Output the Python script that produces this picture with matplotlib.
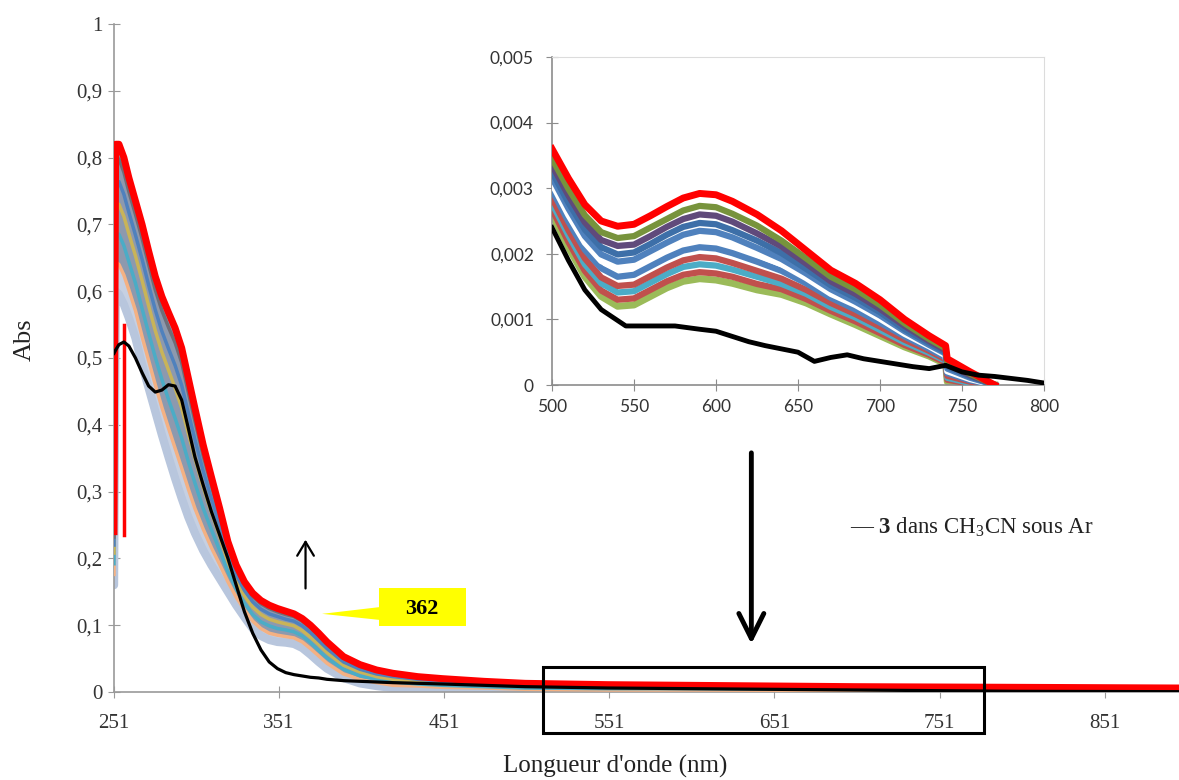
import numpy as np
import matplotlib
matplotlib.use("Agg")
import matplotlib.pyplot as plt
from matplotlib.patches import Rectangle, Polygon
from matplotlib.ticker import FuncFormatter

plt.rcParams['font.family'] = ['Liberation Serif', 'DejaVu Serif']
plt.rcParams['mathtext.fontset'] = 'custom'
plt.rcParams['mathtext.rm'] = 'Liberation Serif'
plt.rcParams['mathtext.bf'] = 'Liberation Serif:bold'
plt.rcParams['mathtext.default'] = 'regular'

# ---------------------------------------------------------------------
# main spectra (nm / Abs)
wl = [251, 252, 254, 257, 260, 264, 268, 272, 276, 280, 284, 288, 292, 296, 300,
      305, 310, 315, 320, 325, 330, 335, 340, 345, 350, 355, 360, 365, 370, 375,
      380, 390, 400, 410, 420, 435, 450, 475, 500, 550, 600, 700, 800, 896]

abs_first = [0.16, 0.60, 0.595, 0.58, 0.56, 0.53, 0.49, 0.455, 0.42, 0.385, 0.352,
             0.32, 0.29, 0.262, 0.238, 0.212, 0.19, 0.17, 0.15, 0.13, 0.112, 0.095,
             0.084, 0.078, 0.075, 0.074, 0.072, 0.066, 0.056, 0.045, 0.035, 0.021,
             0.013, 0.009, 0.006, 0.005, 0.004, 0.003, 0.002, 0.0015, 0.001, 0.001,
             0.0005, 0.0005]

abs_steps = [
    [0.176, 0.644, 0.64, 0.624, 0.602, 0.571, 0.532, 0.496, 0.46, 0.426, 0.395,
     0.365, 0.335, 0.304, 0.275, 0.244, 0.216, 0.191, 0.165, 0.142, 0.123, 0.106,
     0.095, 0.088, 0.085, 0.083, 0.081, 0.075, 0.065, 0.054, 0.043, 0.027, 0.019,
     0.014, 0.010, 0.009, 0.007, 0.006, 0.004, 0.003, 0.003, 0.002, 0.002, 0.0016],
    [0.192, 0.688, 0.685, 0.668, 0.644, 0.612, 0.574, 0.537, 0.501, 0.468, 0.438,
     0.41, 0.38, 0.345, 0.313, 0.275, 0.243, 0.212, 0.18, 0.154, 0.133, 0.116,
     0.105, 0.099, 0.095, 0.093, 0.09, 0.084, 0.074, 0.062, 0.051, 0.034, 0.024,
     0.019, 0.015, 0.012, 0.010, 0.008, 0.006, 0.005, 0.005, 0.004, 0.003, 0.003],
    [0.208, 0.732, 0.73, 0.712, 0.686, 0.653, 0.616, 0.578, 0.541, 0.509, 0.482,
     0.455, 0.425, 0.387, 0.35, 0.307, 0.269, 0.233, 0.195, 0.166, 0.144, 0.127,
     0.116, 0.109, 0.105, 0.102, 0.099, 0.092, 0.082, 0.071, 0.059, 0.04, 0.03,
     0.023, 0.019, 0.016, 0.014, 0.011, 0.009, 0.007, 0.006, 0.005, 0.0044, 0.0038],
    [0.22, 0.765, 0.764, 0.745, 0.718, 0.684, 0.648, 0.609, 0.572, 0.54, 0.514,
     0.489, 0.459, 0.418, 0.378, 0.331, 0.289, 0.249, 0.206, 0.175, 0.152, 0.135,
     0.124, 0.117, 0.113, 0.109, 0.106, 0.099, 0.089, 0.077, 0.065, 0.045, 0.034,
     0.027, 0.023, 0.019, 0.016, 0.013, 0.010, 0.0086, 0.0078, 0.0063, 0.0054, 0.0046],
    [0.232, 0.798, 0.798, 0.778, 0.749, 0.715, 0.679, 0.64, 0.602, 0.571, 0.546,
     0.523, 0.493, 0.449, 0.406, 0.354, 0.309, 0.265, 0.218, 0.184, 0.160, 0.143,
     0.132, 0.125, 0.12, 0.116, 0.113, 0.106, 0.096, 0.084, 0.071, 0.05, 0.038,
     0.031, 0.026, 0.021, 0.018, 0.015, 0.012, 0.01, 0.0091, 0.0073, 0.0064, 0.0055],
]
step_colors = ['#F4B183', '#4BACC6', '#C9B458', '#4F81BD', '#6E6E78']

abs_last = [0.24, 0.82, 0.82, 0.80, 0.77, 0.735, 0.70, 0.66, 0.622, 0.592, 0.568,
            0.545, 0.515, 0.47, 0.425, 0.37, 0.322, 0.275, 0.225, 0.19, 0.165, 0.148,
            0.137, 0.13, 0.125, 0.121, 0.117, 0.110, 0.100, 0.088, 0.075, 0.053,
            0.041, 0.033, 0.028, 0.023, 0.02, 0.016, 0.013, 0.011, 0.010, 0.008,
            0.007, 0.006]

abs_ref = [0.507, 0.512, 0.52, 0.524, 0.518, 0.50, 0.478, 0.458, 0.449, 0.452, 0.46,
           0.458, 0.437, 0.395, 0.352, 0.31, 0.27, 0.235, 0.2, 0.16, 0.12, 0.088,
           0.063, 0.045, 0.035, 0.029, 0.026, 0.024, 0.022, 0.021, 0.019, 0.017,
           0.016, 0.015, 0.014, 0.013, 0.012, 0.010, 0.008, 0.006, 0.005, 0.003,
           0.001, 0.0005]

# spike artefact of the last spectrum
spike_wl = [257, 257]
spike_abs = [0.235, 0.55]

# ---------------------------------------------------------------------
# zoom 500-800 nm, values in 1e-3 Abs
wl_zoom = [500, 510, 520, 530, 540, 550, 560, 570, 580, 590, 600, 610, 625, 640,
           655, 670, 685, 700, 715, 730, 740, 741, 755, 770]
zoom_first = [2.6, 2.1, 1.65, 1.35, 1.2, 1.22, 1.35, 1.48, 1.58, 1.62, 1.6, 1.55,
              1.45, 1.38, 1.25, 1.08, 0.92, 0.75, 0.58, 0.44, 0.32, 0.05, 0.0, 0.0]
zoom_steps = [
    [2.68, 2.18, 1.74, 1.44, 1.30, 1.32, 1.45, 1.58, 1.68, 1.72, 1.70, 1.65, 1.54,
     1.46, 1.31, 1.13, 0.97, 0.79, 0.61, 0.46, 0.34, 0.08, 0.02, 0.0],
    [2.77, 2.28, 1.84, 1.55, 1.41, 1.43, 1.56, 1.69, 1.80, 1.84, 1.82, 1.76, 1.65,
     1.54, 1.39, 1.19, 1.03, 0.84, 0.65, 0.49, 0.37, 0.11, 0.03, 0.0],
    [2.85, 2.36, 1.93, 1.64, 1.51, 1.53, 1.66, 1.79, 1.90, 1.95, 1.93, 1.86, 1.74,
     1.62, 1.45, 1.25, 1.08, 0.89, 0.69, 0.52, 0.39, 0.14, 0.05, 0.0],
    [2.97, 2.49, 2.06, 1.78, 1.65, 1.68, 1.81, 1.94, 2.05, 2.10, 2.08, 2.01, 1.88,
     1.74, 1.55, 1.33, 1.15, 0.95, 0.74, 0.55, 0.42, 0.18, 0.07, 0.0],
    [3.07, 2.59, 2.17, 1.89, 1.77, 1.80, 1.93, 2.06, 2.18, 2.23, 2.21, 2.14, 1.99,
     1.84, 1.63, 1.39, 1.22, 1.01, 0.78, 0.59, 0.45, 0.21, 0.09, 0.0],
    [3.16, 2.69, 2.27, 1.99, 1.88, 1.91, 2.04, 2.17, 2.29, 2.35, 2.33, 2.25, 2.09,
     1.92, 1.70, 1.46, 1.27, 1.06, 0.82, 0.61, 0.48, 0.25, 0.11, 0.0],
    [3.25, 2.78, 2.37, 2.10, 1.99, 2.02, 2.15, 2.29, 2.41, 2.47, 2.45, 2.36, 2.20,
     2.01, 1.77, 1.52, 1.33, 1.11, 0.85, 0.64, 0.50, 0.28, 0.13, 0.0],
    [3.35, 2.89, 2.48, 2.21, 2.12, 2.14, 2.27, 2.41, 2.53, 2.60, 2.58, 2.49, 2.31,
     2.11, 1.85, 1.58, 1.39, 1.16, 0.90, 0.67, 0.53, 0.31, 0.15, 0.0],
    [3.45, 2.99, 2.59, 2.33, 2.24, 2.27, 2.40, 2.53, 2.66, 2.73, 2.71, 2.61, 2.43,
     2.20, 1.93, 1.65, 1.46, 1.22, 0.94, 0.70, 0.56, 0.35, 0.17, 0.0],
]
zoom_colors = ['#C0504D', '#4BACC6', '#C0504D', '#4F81BD', '#FFFFFF', '#4F81BD',
               '#3D6FA8', '#604A7B', '#77933C']
zoom_last = [3.6, 3.15, 2.75, 2.5, 2.42, 2.45, 2.58, 2.72, 2.85, 2.92, 2.9, 2.8,
             2.6, 2.35, 2.05, 1.75, 1.55, 1.3, 1.0, 0.75, 0.6, 0.4, 0.2, 0.0]

wl_zoom_ref = [500, 510, 520, 530, 545, 560, 575, 590, 600, 610, 620, 630, 640, 650,
               660, 670, 680, 690, 700, 710, 720, 730, 740, 750, 760, 770, 780, 790, 800]
zoom_ref = [2.4, 1.9, 1.45, 1.15, 0.9, 0.9, 0.9, 0.85, 0.82, 0.74, 0.66, 0.6, 0.55,
            0.5, 0.36, 0.42, 0.46, 0.4, 0.36, 0.32, 0.28, 0.25, 0.3, 0.2, 0.15, 0.13,
            0.1, 0.07, 0.03]

main_xticks = [251, 351, 451, 551, 651, 751, 851]
main_yticks = [0, 0.1, 0.2, 0.3, 0.4, 0.5, 0.6, 0.7, 0.8, 0.9, 1]
zoom_xticks = [500, 550, 600, 650, 700, 750, 800]
zoom_yticks = [0, 0.001, 0.002, 0.003, 0.004, 0.005]

# ---------------------------------------------------------------------
W, H = 1179, 780
fig = plt.figure(figsize=(W / 100, H / 100), dpi=100)
ax = fig.add_axes([114 / W, 1 - 692 / H, (W - 114) / W, 668 / H])

# band of intermediate spectra
ax.fill_between(wl, abs_first, abs_steps[0], color='#C6D0E2', lw=0, zorder=1)
ax.fill_between(wl, abs_steps[0], abs_last, color='#8D99AE', lw=0, zorder=1)
ax.plot(wl, abs_first, color='#B8C6DD', lw=6, solid_capstyle='round', zorder=2)
for vals, c in zip(abs_steps, step_colors):
    ax.plot(wl, vals, color=c, lw=2.5, zorder=3)
ax.plot(spike_wl, spike_abs, color='#FF0000', lw=2.5, zorder=4)
ax.plot(wl, abs_last, color='#FF0000', lw=5, solid_joinstyle='round', zorder=4)
ax.plot(wl, abs_ref, color='black', lw=2.3, zorder=5)

ax.set_xlim(251, 896)
ax.set_ylim(0, 1)
ax.set_xticks(main_xticks)
ax.set_yticks(main_yticks)
ax.yaxis.set_major_formatter(FuncFormatter(
    lambda v, p: '%g' % v if v in (0, 1) else ('%.1f' % v).replace('.', ',')))
for s in ['top', 'right']:
    ax.spines[s].set_visible(False)
for s in ['left', 'bottom']:
    ax.spines[s].set_color('#9A9A9A')
    ax.spines[s].set_linewidth(1.2)
ax.tick_params(axis='both', direction='inout', length=9, color='#9A9A9A',
               labelsize=15, labelcolor='#333333')
ax.tick_params(axis='y', pad=4)
ax.tick_params(axis='x', pad=11)

fig.text(25 / W, 1 - 340 / H, 'Abs', rotation=90, ha='center', va='center',
         fontsize=19, color='#222222')
fig.text(615 / W, 1 - 766 / H, "Longueur d'onde (nm)", ha='center', va='center',
         fontsize=18, color='#222222')

# annotations
ax.annotate('', xy=(367, 0.228), xytext=(367, 0.155),
            arrowprops=dict(arrowstyle='->,head_length=1.0,head_width=0.6',
                            lw=1.6, color='black', shrinkA=0, shrinkB=0))
ax.annotate('', xy=(637, 0.072), xytext=(637, 0.358),
            arrowprops=dict(arrowstyle='->,head_length=1.8,head_width=0.9',
                            lw=3.5, color='black', shrinkA=0, shrinkB=0))
ax.add_patch(Rectangle((411.4, 0.099), 52.7, 0.057, fc='#FFFF00', ec='none', zorder=6))
ax.add_patch(Polygon([(377, 0.117), (411.5, 0.127), (411.5, 0.108)], closed=True,
                     fc='#FFFF00', ec='none', zorder=6))
ax.text(437.7, 0.124, '362', ha='center', va='center', fontsize=16,
        fontweight='bold', zorder=7)
ax.add_patch(Rectangle((510.7, -0.0614), 267.5, 0.0988, fill=False, ec='black',
                       lw=2.2, clip_on=False, zorder=8))

fig.text(850 / W, 1 - 527 / H, '\u2014 $\\mathbf{3}$ dans CH$_3$CN sous Ar',
         ha='left', va='center', fontsize=16.5, color='#222222')

# ---------------------------------------------------------------------
ins = fig.add_axes([552 / W, 1 - 385 / H, 492 / W, 328 / H])
ins.plot(wl_zoom, np.array(zoom_first) * 1e-3, color='#9BBB59', lw=5, zorder=2)
for vals, c in zip(zoom_steps, zoom_colors):
    ins.plot(wl_zoom, np.array(vals) * 1e-3, color=c, lw=4.5, zorder=3)
ins.plot(wl_zoom, np.array(zoom_last) * 1e-3, color='#FF0000', lw=5, zorder=4)
ins.plot(wl_zoom_ref, np.array(zoom_ref) * 1e-3, color='black', lw=3.5, zorder=5)

ins.set_xlim(500, 800)
ins.set_ylim(0, 0.005)
ins.set_xticks(zoom_xticks)
ins.set_yticks(zoom_yticks)
ins.yaxis.set_major_formatter(FuncFormatter(
    lambda v, p: '0' if v == 0 else ('%.3f' % v).replace('.', ',')))
for s in ['top', 'right']:
    ins.spines[s].set_color('#DCDCDC')
for s in ['left', 'bottom']:
    ins.spines[s].set_color('#8C8C8C')
    ins.spines[s].set_linewidth(1.2)
ins.tick_params(axis='both', direction='inout', length=8, color='#8C8C8C',
                labelsize=12.5, labelcolor='#333333')
for lab in ins.get_xticklabels() + ins.get_yticklabels():
    lab.set_fontfamily(['Lato', 'DejaVu Sans'])
ins.tick_params(axis='y', pad=9)
ins.tick_params(axis='x', pad=6)

fig.savefig('out.png', dpi=100)
